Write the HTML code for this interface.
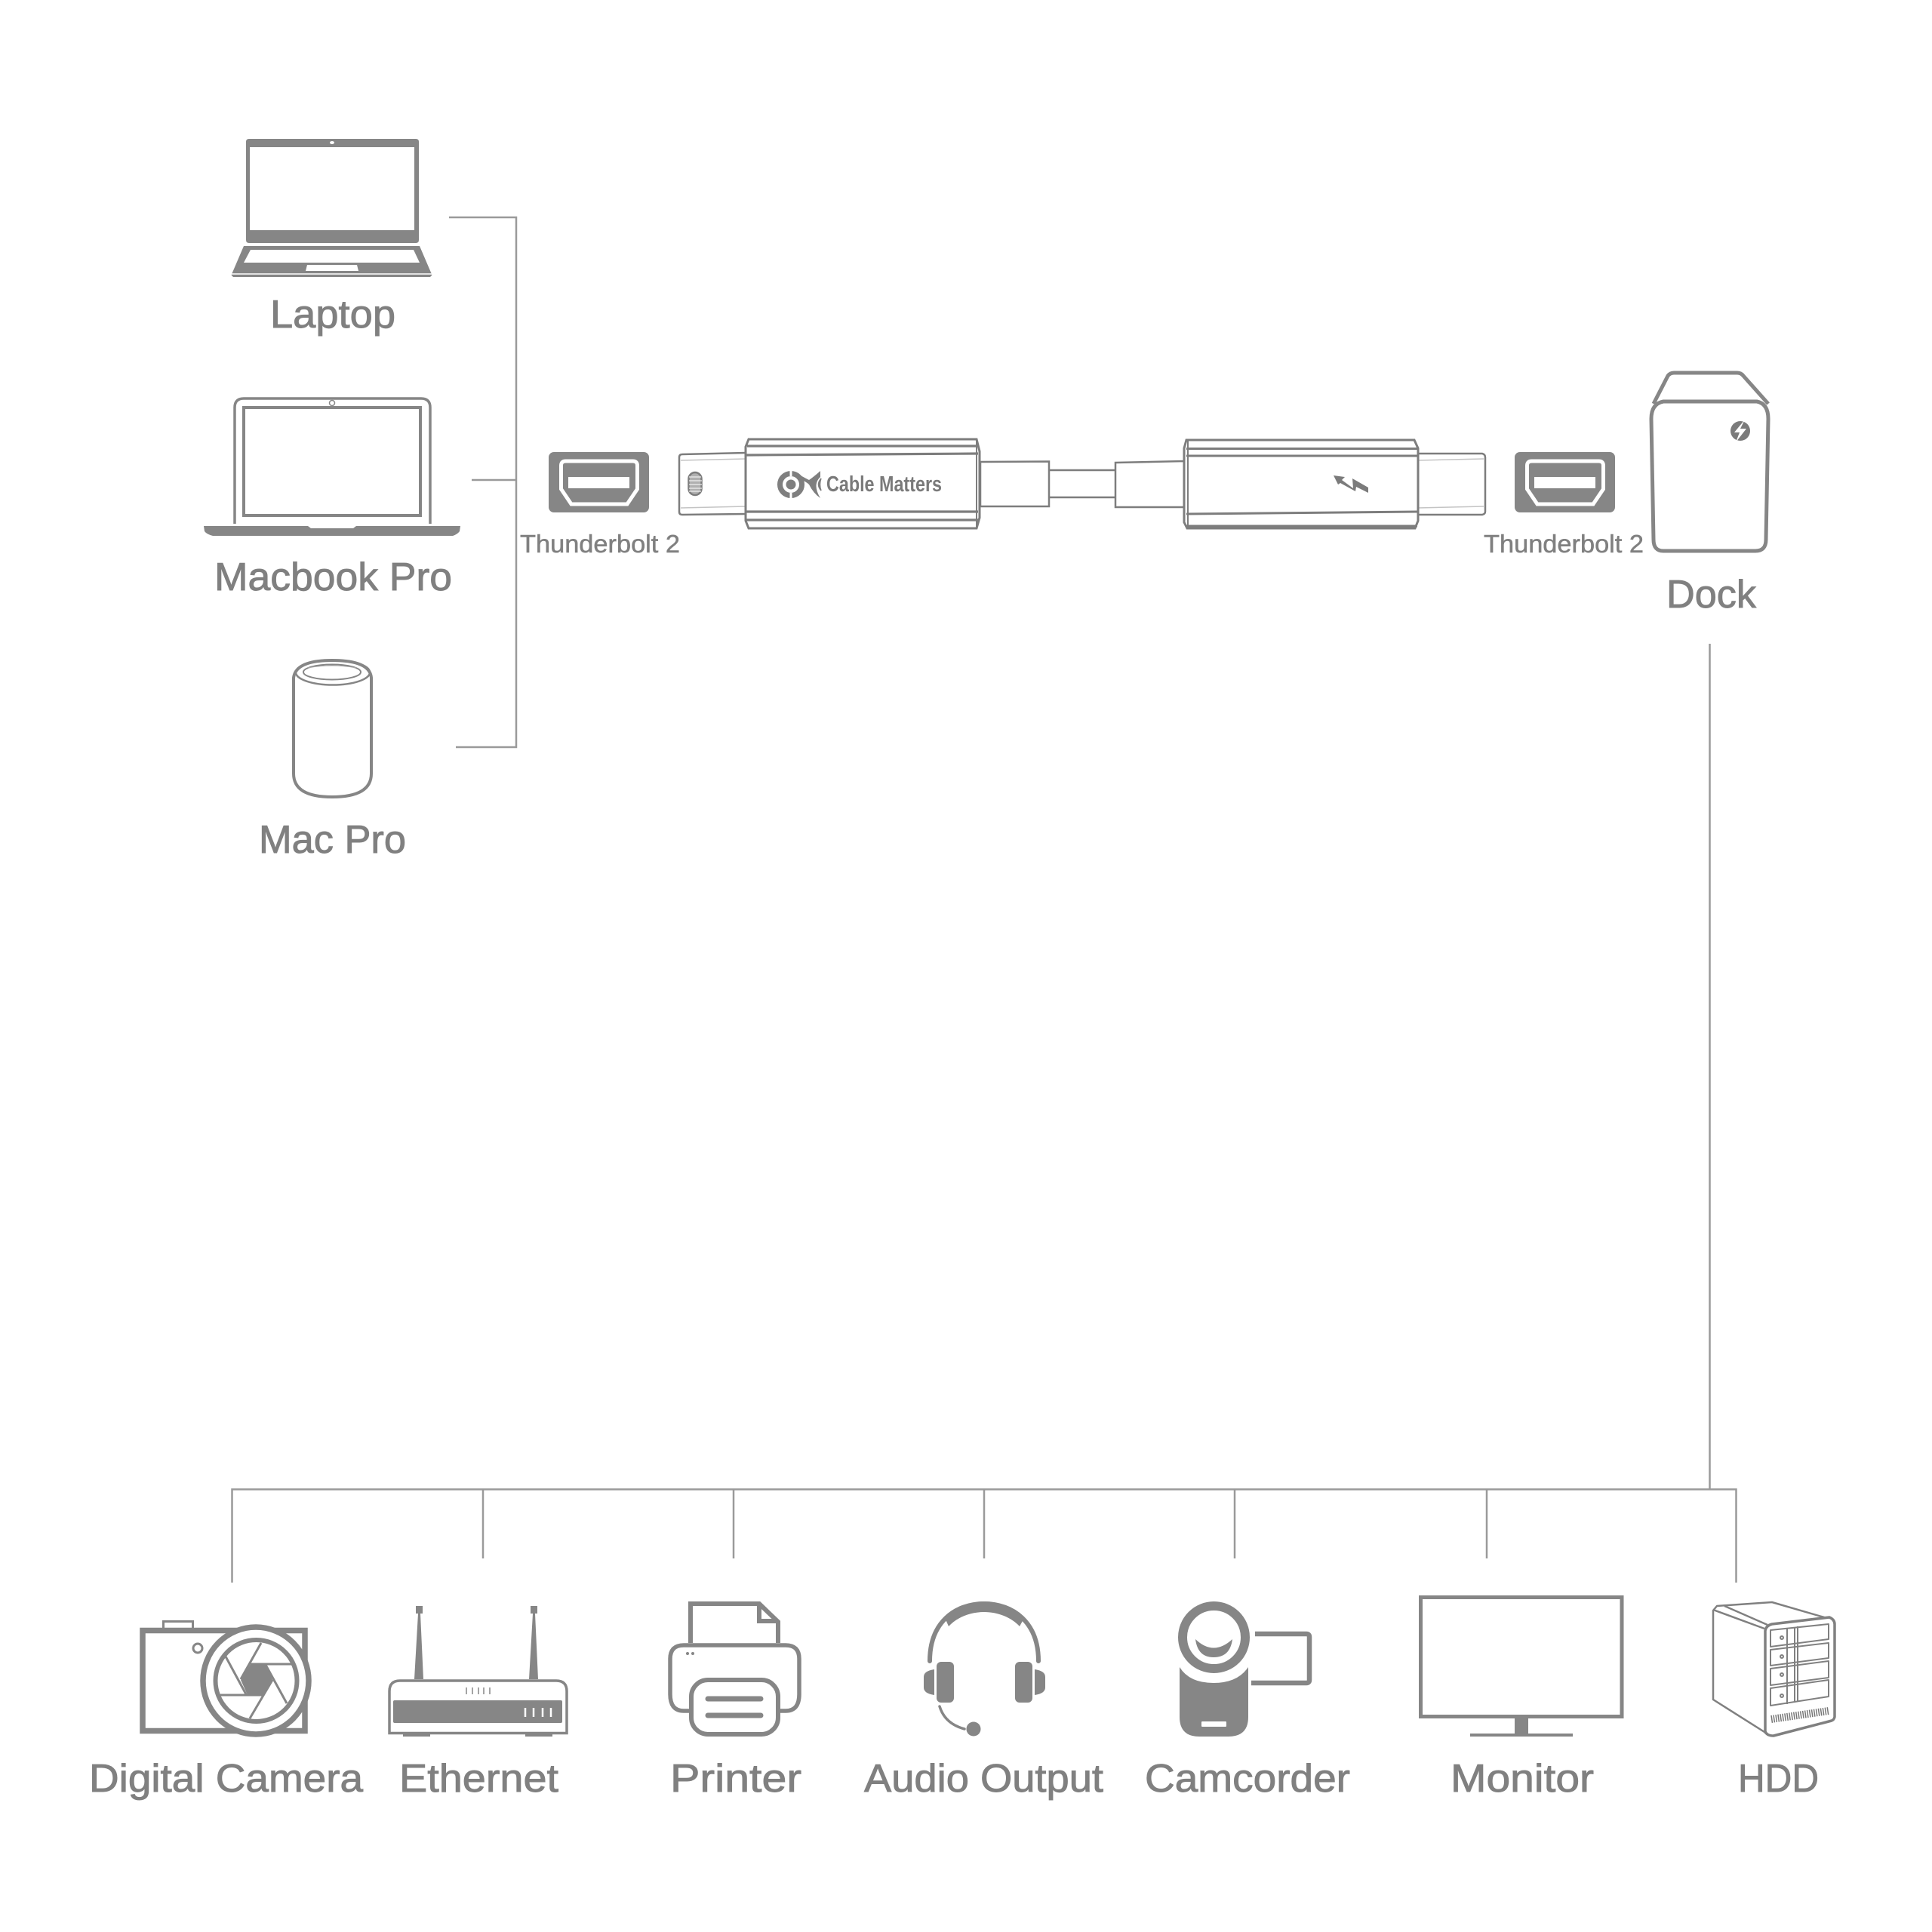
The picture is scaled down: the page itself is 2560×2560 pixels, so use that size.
<!DOCTYPE html>
<html><head><meta charset="utf-8"><style>
html,body{margin:0;padding:0;background:#fff}
svg{display:block}
text{font-family:"Liberation Sans",sans-serif;fill:#808080;stroke:#808080}
.l{font-size:52px;stroke-width:.9px}
.t{font-size:33px;stroke-width:.5px}
</style></head><body>
<svg xmlns="http://www.w3.org/2000/svg" width="2560" height="2560" viewBox="0 0 2560 2560">
<rect width="2560" height="2560" fill="#fff"/>
<!-- connectors -->
<g fill="none" stroke="#9a9a9a" stroke-width="2.5">
<path d="M595 288H684V990H604M625 636H684"/>
<path d="M2265.5 853V1973.5M307.5 2097V1973.5H2300.5V2097M640 1973.5V2065M972 1973.5V2065M1304 1973.5V2065M1636 1973.5V2065M1970 1973.5V2065"/>
</g>
<!-- Laptop -->
<g fill="#868686">
<path fill-rule="evenodd" d="M330 184H551Q555 184 555 188V318Q555 322 551 322H330Q326 322 326 318V188Q326 184 330 184ZM331 195V305H549V195Z"/>
<ellipse cx="440" cy="189" rx="3" ry="2" fill="#fff"/>
<path fill-rule="evenodd" d="M323 326H556L571 361Q573 364 572 365L570 367H309L307 365Q306 364 308 361ZM332 331L323 348H556L548 331Z"/>
<path d="M407 351H473L475 359H405Z" fill="#fff"/>
</g>
<path d="M306 363H573" stroke="#fff" stroke-width="1.5"/>
<text class="l" x="358" y="434" textLength="166" lengthAdjust="spacingAndGlyphs">Laptop</text>
<!-- Macbook -->
<g fill="none" stroke="#868686" stroke-width="3.5">
<path d="M311 694V540Q311 528 323 528H558Q570 528 570 540V694"/>
<rect x="323" y="540" width="234" height="143" stroke-width="4"/>
<circle cx="440" cy="534" r="3.5" stroke-width="1.5"/>
</g>
<path d="M270 697H408L412 700H468L472 697H610L609 704Q606 708 600 710H282Q274 708 271 704Z" fill="#868686"/>
<text class="l" x="284" y="782" textLength="315" lengthAdjust="spacingAndGlyphs">Macbook Pro</text>
<!-- Mac Pro -->
<g fill="none" stroke="#868686">
<path d="M389 898Q392 875 440 875Q490 875 492 898V1025Q492 1056 440 1056Q389 1056 389 1025Z" stroke-width="4"/>
<ellipse cx="441" cy="891" rx="49" ry="16.500" stroke-width="2.500"/>
<ellipse cx="440" cy="890.500" rx="38" ry="10" stroke-width="2"/>
<path d="M408 885Q440 879 472 885" stroke-width="1" stroke="#aaa"/>
</g>
<text class="l" x="343" y="1130" textLength="195" lengthAdjust="spacingAndGlyphs">Mac Pro</text>
<!-- Ports -->
<g>
<rect x="727" y="599" width="133" height="80" rx="7" fill="#868686"/>
<path d="M749.500 611H838.500Q844.500 611 844.500 617V648L831 668H757L743.500 648V617Q743.500 611 749.500 611Z" fill="#868686" stroke="#fff" stroke-width="5"/>
<rect x="753" y="632" width="81" height="15" fill="#fff"/>
</g>
<g transform="translate(1280 0)">
<rect x="727" y="599" width="133" height="80" rx="7" fill="#868686"/>
<path d="M749.500 611H838.500Q844.500 611 844.500 617V648L831 668H757L743.500 648V617Q743.500 611 749.500 611Z" fill="#868686" stroke="#fff" stroke-width="5"/>
<rect x="753" y="632" width="81" height="15" fill="#fff"/>
</g>
<text class="t" x="689" y="732" textLength="212" lengthAdjust="spacingAndGlyphs">Thunderbolt 2</text>
<text class="t" x="1966" y="732" textLength="212" lengthAdjust="spacingAndGlyphs">Thunderbolt 2</text>
<!-- Left connector -->
<g fill="#fff" stroke="#7d7d7d" stroke-width="2.500">
<path d="M988 600L904 602Q900 602 900 606V678Q900 682 904 682L988 681"/>
<path d="M902 610L988 608M902 673L988 671" stroke="#c4c4c4" stroke-width="1.500"/>
<rect x="912.500" y="626" width="17" height="30" rx="8.500" fill="#b0b0b0"/>
<path d="M913 632H929M913 637H930M913 642H930M913 647H930M913 651H929" stroke="#fff" stroke-width="1"/>
<path d="M992 582H1294L1298 598V686L1294 700H992L988 690V592Z" stroke-width="3"/>
<path d="M990 591H1295M989 603L1296 601M989 678H1296M989 689L1296 689" stroke-width="3.200"/>
<path d="M1294 583V699" stroke-width="2"/>
<path d="M1299 612L1390 611.500V671L1299 671Z"/>
<path d="M1390 623H1478M1390 659H1478"/>
</g>
<!-- Logo -->
<g fill="#7f7f7f">
<circle cx="1048" cy="642" r="14.500" fill="none" stroke="#7f7f7f" stroke-width="7"/>
<circle cx="1048" cy="642" r="6.500"/>
<path d="M1046.500 622H1049.500V631H1046.500ZM1046.500 653H1049.500V662H1046.500Z" fill="#fff"/>
<path d="M1057 628Q1068 634 1072 636Q1078 632 1087 624V632Q1076 642 1087 660Q1078 654 1072 642Q1068 638 1058 634Z"/>
<path d="M1088 634Q1081 642 1088 650Q1085 642 1088 634Z" stroke="#7f7f7f" stroke-width="1.500"/>
</g>
<text x="1095" y="651" font-size="29" font-weight="bold" textLength="153" lengthAdjust="spacingAndGlyphs" style="fill:#7a7a7a;stroke:none">Cable Matters</text>
<!-- Right connector -->
<g fill="#fff" stroke="#7d7d7d" stroke-width="2.500">
<path d="M1878 601L1964 601Q1968 602 1968 606V678Q1968 681 1964 682L1878 682Z"/>
<path d="M1878 610L1966 608M1878 673L1966 671" stroke="#c4c4c4" stroke-width="1.500"/>
<path d="M1478 613L1569 611V672L1478 672Z"/>
<path d="M1572 583H1874L1879 594V690L1875 700H1573L1569 692V594Z" stroke-width="3"/>
<path d="M1572 594.500H1878M1572 604H1878M1572 681L1878 678M1572 697H1878" stroke-width="3"/>
<path d="M1574 584V699" stroke-width="2"/>
</g>
<path d="M1767 630L1782 632L1778 636L1793 647L1792 634L1813 646L1813 653L1797 645L1796 651L1776 640L1773 642Z" fill="#7b7b7b"/>
<!-- Dock -->
<g fill="#fff" stroke="#868686" stroke-width="5" stroke-linejoin="round">
<path d="M2191 535L2210 498Q2213 494 2218 494H2302Q2307 494 2310 498L2343 535"/>
<path d="M2188 555Q2188 535 2204 532H2328Q2343 535 2343 555L2340 715Q2340 730 2326 730H2204Q2191 730 2191 715Z"/>
</g>
<ellipse cx="2306" cy="571" rx="13" ry="13" fill="#7b7b7b"/>
<path d="M2312 556L2298 573H2305L2300 586L2314 568H2306Z" fill="#fff"/>
<text class="l" x="2208" y="805" textLength="119" lengthAdjust="spacingAndGlyphs">Dock</text>
<!-- Camera -->
<g fill="#fff" stroke="#868686">
<rect x="216.500" y="2148.500" width="39" height="10" stroke-width="3"/>
<rect x="189" y="2160.500" width="215" height="133" stroke-width="7.500"/>
<circle cx="262" cy="2184" r="6" stroke-width="3" />
<ellipse cx="339" cy="2227" rx="70" ry="71" stroke-width="7.500"/>
<ellipse cx="339.500" cy="2227" rx="54" ry="54" stroke-width="6"/>
</g>
<path d="M332 2205H352L361 2226L350 2246H328L319 2226Z" fill="#868686"/>
<path d="M346 2177L319 2225M332 2205H386M352 2206L380 2257M361 2226L331 2277M350 2246H292M326 2245L299 2195" stroke="#868686" stroke-width="3" fill="none"/>
<text class="l" x="118" y="2374" textLength="363" lengthAdjust="spacingAndGlyphs">Digital Camera</text>
<!-- Router -->
<g fill="#868686">
<rect x="551" y="2128" width="9" height="10"/><rect x="703" y="2128" width="9" height="10"/>
<path d="M554 2138H557L561 2225H549ZM706 2138H709L713 2225H701Z"/>
<rect x="534" y="2297" width="36" height="4"/><rect x="696" y="2297" width="36" height="4"/>
<rect x="521" y="2253" width="224" height="30" rx="2"/>
</g>
<path d="M516 2296.500V2241Q516 2227 530 2227H737Q751 2227 751 2241V2296.500Z" fill="none" stroke="#868686" stroke-width="3.500"/>
<path d="M696 2263V2275M707 2263V2275M719 2263V2275M730 2263V2275" stroke="#fff" stroke-width="2.500"/>
<path d="M618 2236V2245M626 2236V2245M634 2236V2245M641 2236V2245M649 2236V2245" stroke="#868686" stroke-width="1.500"/>
<text class="l" x="529" y="2374" textLength="211" lengthAdjust="spacingAndGlyphs">Ethernet</text>
<!-- Printer -->
<g fill="#fff" stroke="#868686" stroke-width="6">
<path d="M915 2177V2125H1006L1031 2149V2177"/>
<path d="M1006 2125V2148H1031" fill="none"/>
<path d="M913 2267H906Q888 2267 888 2245V2198Q888 2180 906 2180H1041Q1059 2180 1059 2198V2245Q1059 2267 1041 2267H1034" fill="none" stroke-width="5.500"/>
<rect x="916" y="2226" width="115" height="72" rx="22"/>
</g>
<path d="M938 2251H1008M938 2273H1008" stroke="#868686" stroke-width="7" stroke-linecap="round"/>
<circle cx="911" cy="2191" r="2" fill="#868686"/><circle cx="918" cy="2191" r="2" fill="#868686"/>
<text class="l" x="888" y="2374" textLength="174" lengthAdjust="spacingAndGlyphs">Printer</text>
<!-- Headset -->
<g fill="#868686">
<path d="M1232 2201C1232 2150 1265 2125 1304 2125C1343 2125 1376 2150 1376 2201" fill="none" stroke="#868686" stroke-width="6" stroke-linecap="round"/>
<path d="M1253 2146C1265 2130 1285 2122 1304 2122C1323 2122 1343 2130 1356 2146L1351 2155C1340 2143 1322 2136 1304 2136C1286 2136 1268 2143 1257 2155Z"/>
<rect x="1241" y="2202" width="23" height="54" rx="6"/>
<rect x="1345" y="2202" width="23" height="54" rx="6"/>
<path d="M1238 2212V2246Q1224 2244 1224 2236V2222Q1224 2214 1238 2212ZM1371 2212V2246Q1385 2244 1385 2236V2222Q1385 2214 1371 2212Z"/>
<ellipse cx="1290" cy="2291" rx="9.500" ry="9.500"/>
</g>
<path d="M1245 2261Q1252 2284 1278 2291" fill="none" stroke="#868686" stroke-width="3.500" stroke-linecap="round"/>
<text class="l" x="1145" y="2374" textLength="317" lengthAdjust="spacingAndGlyphs">Audio Output</text>
<!-- Camcorder -->
<path d="M1563 2209V2275Q1563 2301 1589 2301H1628Q1654 2301 1654 2275V2209Q1640 2230 1608 2230Q1576 2230 1563 2209Z" fill="#868686"/>
<rect x="1592" y="2281" width="33" height="7" rx="1" fill="#fff"/>
<circle cx="1608.500" cy="2169.500" r="41.500" fill="#fff" stroke="#868686" stroke-width="12"/>
<path d="M1584 2172Q1608 2195 1633 2172Q1630 2196 1608 2196Q1587 2196 1584 2172Z" fill="#868686"/>
<path d="M1663 2165H1731Q1735 2165 1735 2169V2226Q1735 2230 1731 2230H1658" fill="none" stroke="#868686" stroke-width="6.500"/>
<text class="l" x="1517" y="2374" textLength="272" lengthAdjust="spacingAndGlyphs">Camcorder</text>
<!-- Monitor -->
<rect x="1882.500" y="2116.500" width="266.500" height="158" fill="#fff" stroke="#868686" stroke-width="5"/>
<rect x="2007" y="2277" width="18" height="20" fill="#868686"/>
<rect x="1948" y="2297" width="136" height="4" fill="#868686"/>
<text class="l" x="1922" y="2374" textLength="190" lengthAdjust="spacingAndGlyphs">Monitor</text>
<!-- HDD -->
<g fill="#fff" stroke="#808080" stroke-width="2.500" stroke-linejoin="round">
<path d="M2270 2134L2275 2128L2348 2123L2417 2143Q2430 2146 2430 2154V2277L2347 2300Q2342 2300 2338 2295L2270 2252Z"/>
<path d="M2270 2133L2338 2158" fill="none"/>
<path d="M2285 2128L2342 2153" fill="none"/>
<path d="M2339 2161Q2340 2154 2348 2152L2424 2143Q2431 2146 2431 2152V2275Q2430 2279 2427 2280L2350 2300Q2341 2300 2339 2294Z" stroke-width="3.500"/>
<g stroke-width="2">
<path d="M2346 2160L2423 2152V2172L2346 2182Z"/>
<path d="M2346 2186L2423 2177V2197L2346 2207Z"/>
<path d="M2346 2211L2423 2201V2223L2346 2233Z"/>
<path d="M2346 2237L2423 2226V2248L2346 2260Z"/>
<path d="M2368 2157V2258M2378 2156V2256M2382 2155V2255" fill="none"/>
<circle cx="2361" cy="2170" r="2"/><circle cx="2361" cy="2195" r="2"/><circle cx="2361" cy="2219" r="2"/><circle cx="2361" cy="2247" r="2"/>
</g>
</g>
<path d="M2347 2278L2423 2267" stroke="#777" stroke-width="10" stroke-dasharray="1.500 1.500" fill="none"/>
<text class="l" x="2303" y="2374" textLength="107" lengthAdjust="spacingAndGlyphs">HDD</text>
</svg>
</body></html>
